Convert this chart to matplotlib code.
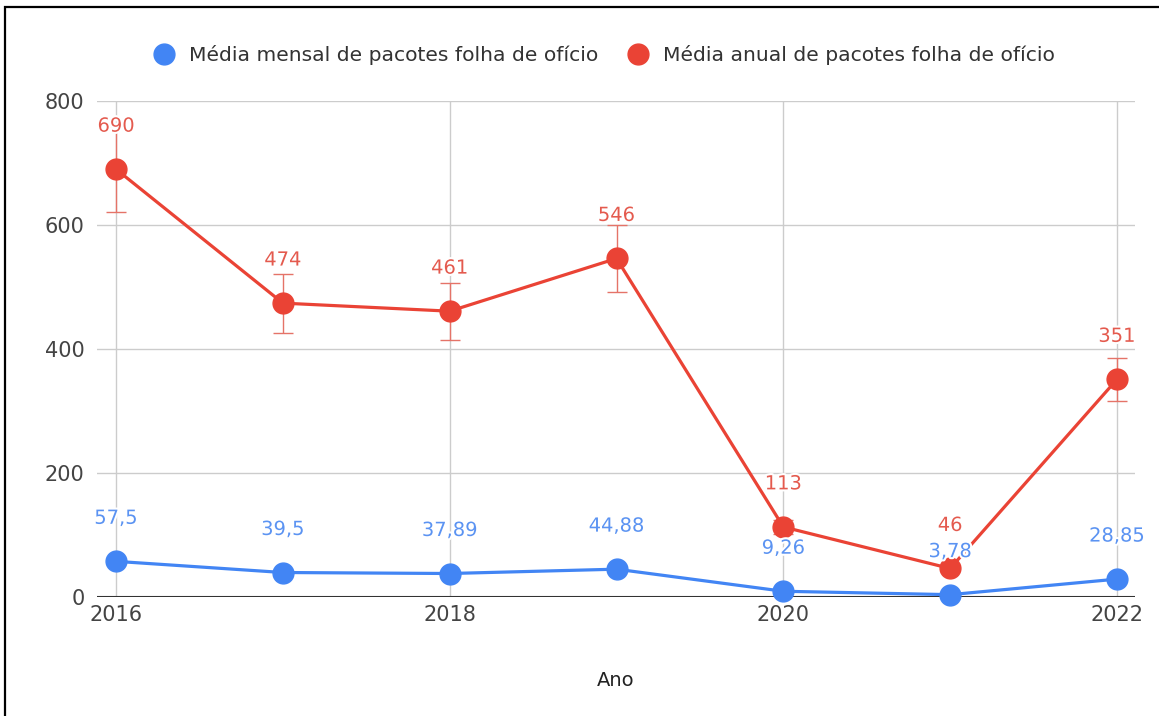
import matplotlib.pyplot as plt
import matplotlib.patheffects as pe
from matplotlib.patches import Rectangle
from matplotlib.lines import Line2D

# data
anos = [2016, 2017, 2018, 2019, 2020, 2021, 2022]
media_mensal = [57.5, 39.5, 37.89, 44.88, 9.26, 3.78, 28.85]
media_anual = [690, 474, 461, 546, 113, 46, 351]
rotulos_mensal = ['57,5', '39,5', '37,89', '44,88', '9,26', '3,78', '28,85']
rotulos_anual = ['690', '474', '461', '546', '113', '46', '351']
nome_mensal = 'Média mensal de pacotes folha de ofício'
nome_anual = 'Média anual de pacotes folha de ofício'
erro_pct = 0.10

azul = '#4285F4'
vermelho = '#EA4335'

plt.rcParams['font.family'] = ['DejaVu Sans']

W, H = 1159, 716
fig = plt.figure(figsize=(W / 100, H / 100), dpi=100)
ax = fig.add_axes([97 / W, 1 - 597 / H, (1135 - 97) / W, (597 - 101) / H])

# barras de erro (10%) so na serie anual
ax.errorbar(anos, media_anual, yerr=[v * erro_pct for v in media_anual], fmt='none',
            ecolor='#e57368', elinewidth=1, capsize=7, capthick=1, zorder=3, clip_on=False)

ax.plot(anos, media_mensal, color=azul, lw=2.3, marker='o', ms=15, zorder=4, clip_on=False)
ax.plot(anos, media_anual, color=vermelho, lw=2.3, marker='o', ms=15, zorder=5, clip_on=False)

halo = [pe.withStroke(linewidth=3, foreground='white')]
for x, y, t in zip(anos, media_mensal, rotulos_mensal):
    ax.annotate(t, (x, y), xytext=(0, 31), textcoords='offset points', ha='center', va='center',
                color='#5b93f2', fontsize=14, zorder=7, path_effects=halo)
for x, y, t in zip(anos, media_anual, rotulos_anual):
    ax.annotate(t, (x, y), xytext=(0, 31), textcoords='offset points', ha='center', va='center',
                color='#e45a4e', fontsize=14, zorder=6, path_effects=halo)

ax.set_xlim(2016 - 19 / 166.5, 2022 + 18 / 166.5)
ax.set_ylim(0, 800)
ax.set_xticks([2016, 2018, 2020, 2022])
ax.set_yticks([0, 200, 400, 600, 800])
ax.grid(True, color='#cccccc', lw=1)
ax.set_axisbelow(True)
ax.axhline(0, color='#333333', lw=1.5, zorder=2)
for s in ax.spines.values():
    s.set_visible(False)
ax.tick_params(length=0, labelsize=15, labelcolor='#444444')
ax.tick_params(axis='y', pad=9)
ax.tick_params(axis='x', pad=6)
ax.set_xlabel('Ano', fontsize=14, color='#222222', labelpad=33)

handles = [Line2D([], [], ls='none', marker='o', ms=15, color=azul),
           Line2D([], [], ls='none', marker='o', ms=15, color=vermelho)]
fig.legend(handles, [nome_mensal, nome_anual], loc='center', bbox_to_anchor=(0.517, 1 - 55 / H),
           ncol=2, frameon=False, fontsize=14.6, handletextpad=0.2, columnspacing=1.0,
           labelcolor='#333333')

# moldura preta (so esquerda e topo aparecem)
fig.patches.append(Rectangle((5 / W, -0.01), 1.0, 1.01 - 7 / H, transform=fig.transFigure,
                             fill=False, ec='black', lw=1.6))

fig.savefig('out.png', dpi=100)
